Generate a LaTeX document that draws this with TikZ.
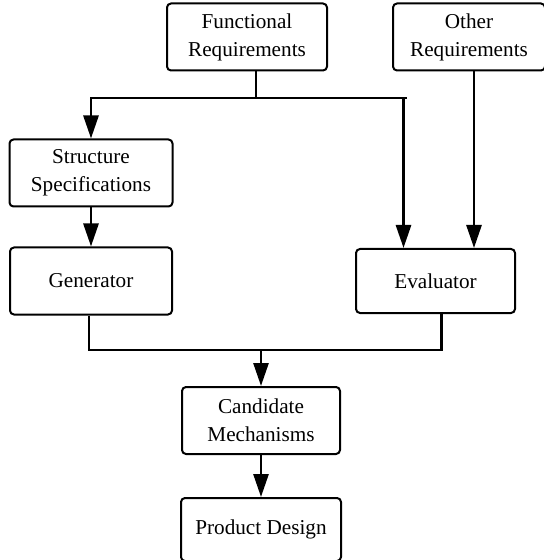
\documentclass[tikz,border=0pt]{standalone}
\usepackage{fontspec}
\setmainfont{Liberation Serif}
\usepackage{tikz}
\usetikzlibrary{positioning, arrows.meta, calc}

\begin{document}
\begin{tikzpicture}[x=1pt, y=1pt,
  font=\fontsize{10.6}{14}\selectfont,
  box/.style={draw, line width=1pt, rounded corners=2pt, minimum width=80pt,
              minimum height=33.5pt, inner sep=2pt, align=center},
  link/.style={line width=1.35pt},
  >={Triangle[length=11.5pt, width=7.5pt]}]
  \useasboundingbox (0,0) rectangle (272,-280);
  \node[box] (fr) at (123.5,-18.5) {Functional\\Requirements};
  \node[box, minimum width=76pt, right=32pt of fr] (oreq) {Other\\Requirements};
  \node[box, minimum width=81.5pt] (ss) at (45.5,-86.5) {Structure\\Specifications};
  \node[box, minimum width=81pt, below=19.5pt of ss] (gen) {Generator};
  \node[box, minimum width=79.5pt, minimum height=32pt, right=91pt of gen] (ev) {Evaluator};
  \node[box, minimum width=79pt] (cm) at (130.5,-210.25) {Candidate\\Mechanisms};
  \node[box, minimum width=80pt, minimum height=31.5pt, below=21pt of cm] (pd) {Product Design};
  \coordinate (split) at (128,-49);
  \coordinate (join) at (cm.north |- 0,-175);
  \draw[link] (fr.south -| split) -- (split);
  \draw[link,->] (split) -| (ss.north);
  \draw[link,->] (split) -| ([xshift=-16pt]ev.north);
  \draw[link] (split) -- ([xshift=-14.5pt]ev.north |- split);
  \draw[link,->] ([xshift=2.5pt]oreq.south) -- ([xshift=2.5pt]oreq.south |- ev.north);
  \draw[link,->] (ss) -- (gen);
  \draw[link] ([xshift=-1pt]gen.south) |- (join) -| ([xshift=3pt]ev.south);
  \draw[link,->] (join) -- (cm);
  \draw[link,->] (cm) -- (pd);
\end{tikzpicture}
\end{document}
